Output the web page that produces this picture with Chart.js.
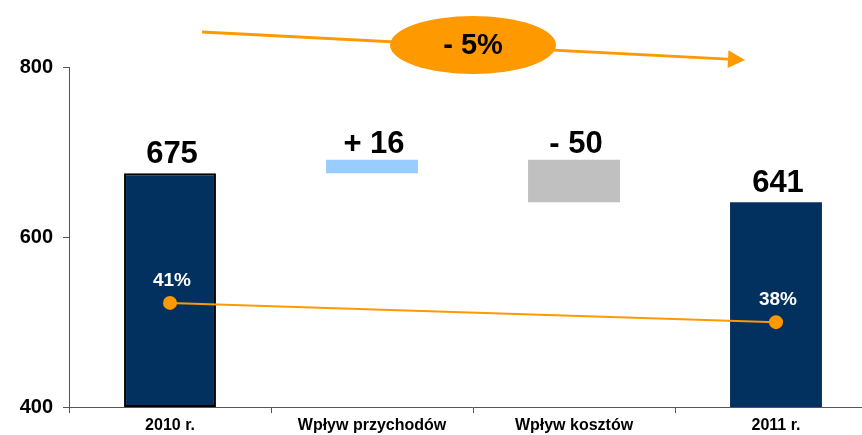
<!DOCTYPE html>
<html>
<head>
<meta charset="utf-8">
<script src="https://cdn.jsdelivr.net/npm/chart.js@4/dist/chart.umd.min.js"></script>
<style>
  html, body { margin: 0; padding: 0; background: #fff; overflow: hidden; }
  #wrap { position: absolute; left: 0; top: 0; width: 885px; height: 435px; }
</style>
</head>
<body>
<div id="wrap"><canvas id="chart" width="885" height="435"></canvas></div>
<script>
const categories = ["2010 r.", "Wpływ przychodów", "Wpływ kosztów", "2011 r."];
const start2010 = 675;
const revenueImpact = 16;
const costImpact = -50;
const end2011 = 641;
const marginPct = [41, null, null, 38];
const yTicks = [400, 600, 800];
const changeLabel = "- 5%";

const yMin = 400;
const afterRevenue = start2010 + revenueImpact;
const bars = [
  [yMin, start2010],
  [start2010, afterRevenue],
  [afterRevenue, afterRevenue + costImpact],
  [yMin, end2011]
];
const barLabels = [
  String(start2010),
  "+ " + revenueImpact,
  "- " + Math.abs(costImpact),
  String(end2011)
];

const FONT = "'Liberation Sans', Arial, sans-serif";

const labelsPlugin = {
  id: "labels",
  afterDatasetsDraw(chart) {
    const ctx = chart.ctx;
    ctx.save();
    ctx.textAlign = "center";
    ctx.textBaseline = "alphabetic";

    const barMeta = chart.getDatasetMeta(0);
    barMeta.data.forEach((el, i) => {
      const top = Math.min(el.y, el.base);
      const gap = (i === 0 || i === 3) ? 10 : 7;
      ctx.fillStyle = "#000";
      ctx.font = "bold 31px " + FONT;
      ctx.fillText(barLabels[i], el.x + 2, top - gap);
    });

    const lineMeta = chart.getDatasetMeta(1);
    lineMeta.data.forEach((el, i) => {
      if (marginPct[i] == null) return;
      ctx.fillStyle = "#fff";
      ctx.font = "bold 19px " + FONT;
      ctx.fillText(marginPct[i] + "%", el.x + 2, el.y - 17);
    });
    ctx.restore();
  },
  afterDraw(chart) {
    // strzałka i elipsa z procentową zmianą
    const ctx = chart.ctx;
    const xs = chart.scales.x;
    const x0 = xs.getPixelForValue(0) + 32;
    const x1 = xs.getPixelForValue(3) - 31;
    const y0 = 32, y1 = 60;
    const ang = Math.atan2(y1 - y0, x1 - x0);
    const headLen = 17, headW = 9;
    const hx = x1 - headLen * Math.cos(ang), hy = y1 - headLen * Math.sin(ang);

    ctx.save();
    ctx.strokeStyle = "#ff9900";
    ctx.fillStyle = "#ff9900";
    ctx.lineWidth = 3;
    ctx.beginPath();
    ctx.moveTo(x0, y0);
    ctx.lineTo(hx, hy);
    ctx.stroke();
    ctx.beginPath();
    ctx.moveTo(x1, y1);
    ctx.lineTo(hx - headW * Math.sin(ang), hy + headW * Math.cos(ang));
    ctx.lineTo(hx + headW * Math.sin(ang), hy - headW * Math.cos(ang));
    ctx.closePath();
    ctx.fill();

    const cx = (xs.getPixelForValue(1) + xs.getPixelForValue(2)) / 2;
    ctx.beginPath();
    ctx.ellipse(cx, 45, 83, 29, 0, 0, Math.PI * 2);
    ctx.fill();

    ctx.fillStyle = "#000";
    ctx.font = "bold 29px " + FONT;
    ctx.textAlign = "center";
    ctx.textBaseline = "middle";
    ctx.fillText(changeLabel, cx, 46);
    ctx.restore();
  }
};

new Chart(document.getElementById("chart"), {
  data: {
    labels: categories,
    datasets: [
      {
        type: "bar",
        data: bars,
        backgroundColor: ["#03315f", "#99ccff", "#c0c0c0", "#03315f"],
        borderColor: ["#000", "rgba(0,0,0,0)", "rgba(0,0,0,0)", "rgba(0,0,0,0)"],
        borderWidth: [2, 0, 0, 0],
        borderSkipped: false,
        barPercentage: 0.455,
        categoryPercentage: 1,
        order: 1
      },
      {
        type: "line",
        data: marginPct,
        yAxisID: "y2",
        spanGaps: true,
        borderColor: "#ff9900",
        borderWidth: 2,
        pointRadius: 6,
        pointBackgroundColor: "#ff9900",
        pointBorderColor: "#ff9900",
        order: 0
      }
    ]
  },
  options: {
    responsive: false,
    animation: false,
    layout: { padding: { top: 67, left: 0, right: 0, bottom: 0 } },
    plugins: { legend: { display: false }, tooltip: { enabled: false } },
    scales: {
      x: {
        offset: true,
        grid: { display: true, offset: true, drawOnChartArea: false, tickLength: 6, color: "#555" },
        border: { color: "#555", width: 1 },
        ticks: { color: "#000", font: { family: FONT, weight: "bold", size: 16 }, padding: 3, maxRotation: 0 },
        afterFit(s) { s.height = 28; }
      },
      y: {
        min: yMin,
        max: 800,
        afterBuildTicks(s) { s.ticks = yTicks.map(v => ({ value: v })); },
        grid: { drawOnChartArea: false, tickLength: 6, color: "#555" },
        border: { color: "#555", width: 1 },
        ticks: { color: "#000", font: { family: FONT, weight: "bold", size: 20 }, padding: 10 },
        afterFit(s) { s.width = 69; }
      },
      y2: {
        display: false,
        min: 24.8,
        max: 77.7
      }
    }
  },
  plugins: [labelsPlugin]
});
</script>
</body>
</html>
